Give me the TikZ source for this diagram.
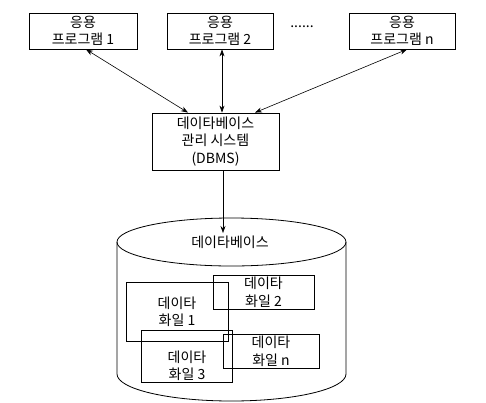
\documentclass[tikz,border=0pt]{standalone}
\usepackage{fontspec}
\setmainfont{Noto Sans CJK KR}
\usetikzlibrary{arrows.meta}
\begin{document}
\begin{tikzpicture}[x=1pt,y=-1pt,
  every node/.style={font=\fontsize{14}{17.5}\selectfont, align=center},
  box/.style={draw, line width=0.8pt, inner sep=0pt},
  link/.style={line width=0.6pt, {Stealth[length=7pt,width=5pt]}-{Stealth[length=7pt,width=5pt]}},
  lone/.style={line width=0.6pt, -{Stealth[length=7pt,width=5pt]}},
  cyl/.style={line width=0.8pt}]
\useasboundingbox (0,0) rectangle (486,402);
% application programs
\node[box, minimum width=108pt, minimum height=36pt] (a1) at (83,31) {응용\\프로그램 1};
\node[box, minimum width=106pt, minimum height=36pt] (a2) at (220,31) {응용\\프로그램 2};
\node[box, minimum width=106pt, minimum height=36pt] (a3) at (402,31) {응용\\프로그램 n};
\node (dots) at (302,27) {......};
% DBMS
\node[box, minimum width=127pt, minimum height=57pt] (dbms) at (215.5,141.5) {데이타베이스\\관리 시스템\\(DBMS)};
\draw[link] ([xshift=3pt]a1.south) -- ([xshift=-27.5pt]dbms.north);
\draw[link] ([xshift=2pt]a2.south) -- ([xshift=6.5pt]dbms.north);
\draw[link] ([xshift=5pt]a3.south) -- ([xshift=39.5pt]dbms.north);
% cylinder
\draw[cyl] (231.5,242) ellipse [x radius=114.5, y radius=24];
\draw[cyl] (117,242) -- (117,374) arc[start angle=180, end angle=0, x radius=114.5, y radius=27] -- (346,242);
\node[inner sep=1pt] (dbl) at (230,242) {데이타베이스};
\draw[lone] ([xshift=7.5pt]dbms.south) -- (223,233);
% data files
\node[box, minimum width=102pt, minimum height=59pt] (f1) at (177,311.5) {데이타\\화일 1};
\node[box, minimum width=101pt, minimum height=34pt] (f2) at (263.5,292) {데이타\\화일 2};
\node[box, minimum width=91pt, minimum height=52pt] (f3) at (186.5,356) {};
\node (f3t) at (187,365.5) {데이타\\화일 3};
\node[box, minimum width=96pt, minimum height=34pt] (fn) at (271,351) {데이타\\화일 n};
\end{tikzpicture}
\end{document}
